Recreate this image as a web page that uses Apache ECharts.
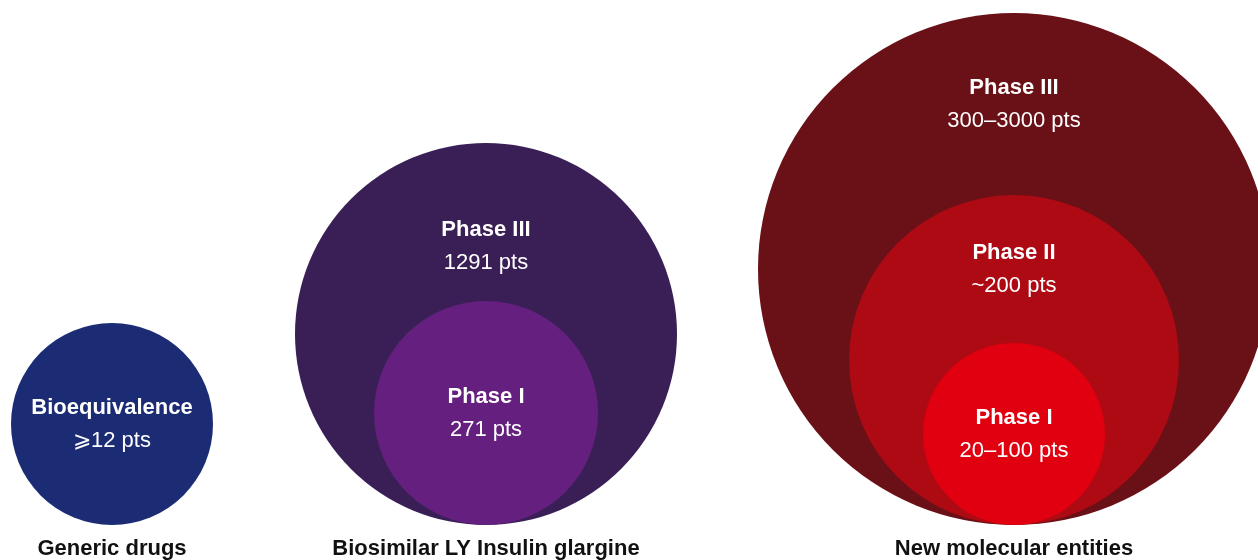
<!DOCTYPE html>
<html>
<head>
<meta charset="utf-8">
<script src="https://cdn.jsdelivr.net/npm/echarts@6/dist/echarts.min.js"></script>
<style>
  html, body { margin: 0; padding: 0; background: #fff; }
  #chart { width: 1258px; height: 560px; }
</style>
</head>
<body>
<div id="chart"></div>
<script>
// groups along the bottom
const groupNames = ['Generic drugs', 'Biosimilar LY Insulin glargine', 'New molecular entities']
const groupX = [112, 486, 1014]

// circles, outer to inner inside each group (radius in axis units)
const circleGroup = [0, 1, 1, 2, 2, 2]
const circleRadius = [101, 191, 112, 256, 165, 91]
const circleTitle = ['Bioequivalence', 'Phase III', 'Phase I', 'Phase III', 'Phase II', 'Phase I']
const circlePts = ['⩾12 pts', '1291 pts', '271 pts', '300–3000 pts', '~200 pts', '20–100 pts']

// styles
const circleColor = ['#1b2b74', '#3a1f57', '#65207f', '#6a1017', '#ad0a13', '#e1000f']
// where the label sits between the circle top and the next inner circle top
const labelFrac = [0.5, 0.65, 0.5, 0.5, 0.5, 0.5]

// inner radius = next circle of same group (0 for innermost)
let circleData = []
for (let i = 0; i < circleRadius.length; i++) {
  let inner = 0
  if (i + 1 < circleRadius.length && circleGroup[i + 1] == circleGroup[i]) {
    inner = circleRadius[i + 1]
  }
  circleData.push([groupX[circleGroup[i]], circleRadius[i], inner, i])
}
let groupData = groupNames.map((n, i) => [groupX[i], 0, i])

const fontFam = "'Liberation Sans', Arial, sans-serif"

let chart = echarts.init(document.getElementById('chart'))
let option = {
  animation: false,
  grid: { left: 0, right: 0, top: 0, bottom: 0 },
  xAxis: { type: 'value', min: 0, max: 1258, show: false },
  yAxis: { type: 'value', min: -35, max: 525, show: false },
  series: [
    {
      type: 'custom',
      clip: false,
      data: circleData,
      renderItem: function (params, api) {
        let cx = api.value(0)
        let r = api.value(1)
        let rin = api.value(2)
        let idx = api.value(3)
        let c = api.coord([cx, r])
        let rpx = api.size([r, 0])[0]
        let top = 2 * r
        let labelY = top - labelFrac[idx] * (top - 2 * rin)
        let lp = api.coord([cx, labelY])
        return {
          type: 'group',
          children: [
            {
              type: 'circle',
              shape: { cx: c[0], cy: c[1], r: rpx },
              style: { fill: circleColor[idx] }
            },
            {
              type: 'text',
              style: {
                text: circleTitle[idx], x: lp[0], y: lp[1] - 16,
                fill: '#fff', font: 'bold 22px ' + fontFam,
                align: 'center', verticalAlign: 'middle'
              }
            },
            {
              type: 'text',
              style: {
                text: circlePts[idx], x: lp[0], y: lp[1] + 17,
                fill: '#fff', font: '22px ' + fontFam,
                align: 'center', verticalAlign: 'middle'
              }
            }
          ]
        }
      }
    },
    {
      type: 'custom',
      clip: false,
      data: groupData,
      renderItem: function (params, api) {
        let p = api.coord([api.value(0), api.value(1)])
        return {
          type: 'text',
          style: {
            text: groupNames[api.value(2)], x: p[0], y: p[1] + 24,
            fill: '#111', font: 'bold 22px ' + fontFam,
            align: 'center', verticalAlign: 'middle'
          }
        }
      }
    }
  ]
}
chart.setOption(option)
window.addEventListener('resize', () => {
  chart.resize()
})
</script>
</body>
</html>
